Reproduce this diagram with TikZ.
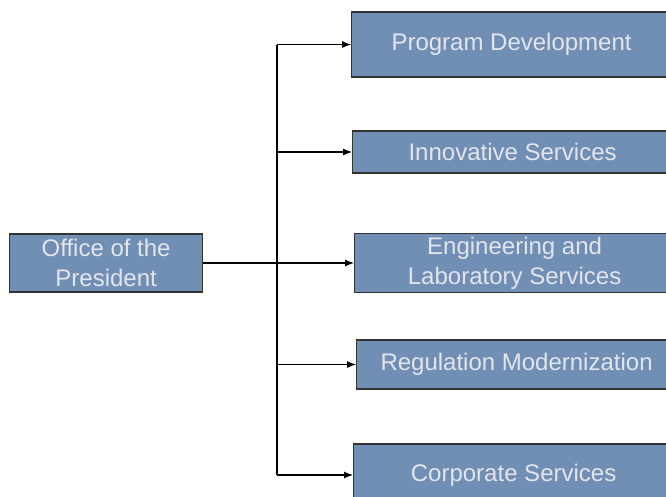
\documentclass[tikz,border=0pt]{standalone}
\usepackage{fontspec}
\setmainfont{Liberation Sans}
\usepackage{tikz}
\usetikzlibrary{arrows.meta}
\definecolor{unitblue}{RGB}{113,142,180}
\definecolor{unittext}{RGB}{226,229,236}
\tikzstyle{unit}=[rectangle,draw=black!80,fill=unitblue,text=unittext,line width=1.2pt,anchor=west,align=center,inner sep=0pt,font=\fontsize{24}{30}\selectfont]
\tikzset{link/.style={line width=1.1pt,-{Latex[length=9pt,width=7pt]}}}

\begin{document}
\begin{tikzpicture}[x=1pt,y=-1pt]

    \useasboundingbox (0,0) rectangle (666,496);
    \clip (0,0) rectangle (666,496);

    \node[unit,minimum width=193,minimum height=58] (pres) at (9,263) {Office of the\\President};

    \foreach \pos/\hgt/\name/\txt in {{(351,44.5)/65/prog/Program Development}, {(352,152)/42/innov/Innovative Services}, {(354,263)/59/eng/Engineering and\\Laboratory Services}, {(356,364.5)/49/reg/Regulation Modernization}, {(353,475)/62/corp/Corporate Services}}
        \node[unit,minimum width=320,minimum height=\hgt] (\name) at \pos {\txt};

    \coordinate (trunk) at (277,263);

    \draw[line width=1.1pt] (pres.east) -- (trunk);
    \draw[line width=1.1pt] (trunk |- prog.west) -- (trunk |- corp.west);

    \foreach \name in {prog,innov,eng,reg,corp}
        \draw[link] (trunk |- \name.west) -- (\name.west);

\end{tikzpicture}
\end{document}
